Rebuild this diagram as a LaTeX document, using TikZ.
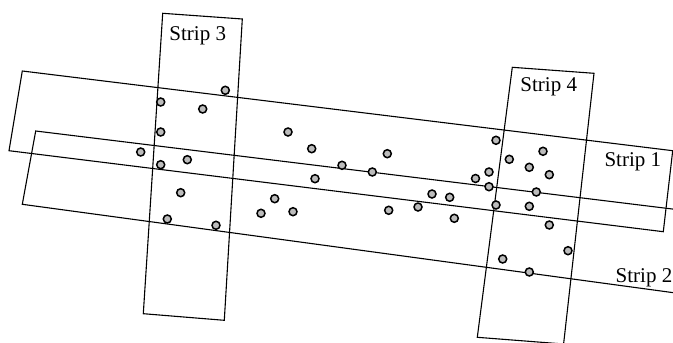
\documentclass[tikz,border=0pt]{standalone}
\usepackage{fontspec}
\setmainfont{Liberation Serif}
\begin{document}
\begin{tikzpicture}[x=1pt,y=-1pt,
  strip/.style={draw=black,line width=1.1pt,line join=miter},
  pt/.style={circle,draw=black,line width=1.5pt,fill={rgb,255:red,188;green,188;blue,188},inner sep=0pt,minimum size=8pt},
  striplabel/.style={anchor=base,inner sep=0pt,font=\fontsize{21}{24}\selectfont}]
\useasboundingbox (0,0) rectangle (673,343);
\begin{scope}
\clip (0,0) rectangle (673,343);
% horizontal strips
\draw[strip] (22.3,71) -- (672.7,150.7) -- (663.3,231.7) -- (9,150.7) -- cycle;
\draw[strip] (700,212.4) -- (35.7,131) -- (22.3,204.3) -- (700,296.3);
% vertical strips
\draw[strip] (162.7,13.3) -- (242.3,19) -- (224.3,320.3) -- (143.3,313.7) -- cycle;
\draw[strip] (512.3,67.3) -- (594,73.3) -- (563.6,344) -- (477.3,337.3) -- cycle;
\end{scope}
% labels
\node[striplabel] (l3) at (197.7,40) {Strip 3};
\node[striplabel] (l4) at (548.7,91.7) {Strip 4};
\node[striplabel] (l1) at (632.8,166) {Strip 1};
\node[striplabel] (l2) at (644,282) {Strip 2};
% data points
\foreach \x/\y [count=\i] in {
  225.3/90.3, 160.7/102, 202.7/109, 160.7/132, 140.7/152, 187.3/159.7, 160.7/164.7,
  180.7/192.7, 167.3/219, 216/225.3,
  288/132, 311.7/148.7, 387.3/153.7, 342/165.3, 372.3/172, 315/178.7, 475.5/178.5,
  274.7/198.7, 432/194, 449.7/197.3, 261/213.3, 293/211.7, 388.7/210.3, 418/207, 454.3/218.3,
  496/140.3, 543/151.3, 509.3/159.3, 529.3/167.3, 489/172, 549.3/174.7, 489/186.7, 536.3/192,
  496/205, 529.3/206.3, 549.3/225, 568/250.7, 502.7/259, 529.3/272}
  \node[pt] (p\i) at (\x,\y) {};
\end{tikzpicture}
\end{document}
